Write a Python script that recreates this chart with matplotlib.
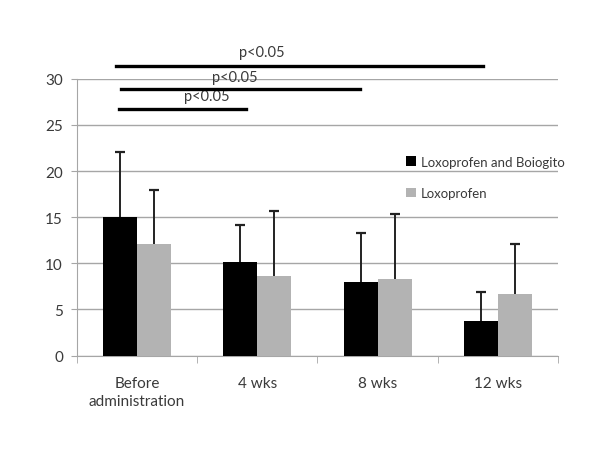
import numpy as np
import matplotlib.pyplot as plt

categories = ['Before\nadministration', '4 wks', '8 wks', '12 wks']
combo = [15.0, 10.1, 8.0, 3.7]
combo_err = [7.1, 4.1, 5.3, 3.2]
loxo = [12.1, 8.6, 8.3, 6.7]
loxo_err = [5.8, 7.1, 7.0, 5.4]
# significance brackets: (x start, x end, height, label x, label y)
sig_lines = [(-0.15, 0.91, 26.7, 0.58, 28.1),
             (-0.13, 1.85, 28.9, 0.81, 30.2),
             (-0.17, 2.88, 31.4, 1.04, 32.9)]

plt.rcParams['font.family'] = ['Lato', 'DejaVu Sans']
fig = plt.figure(figsize=(6, 4.56), dpi=100)
ax = fig.add_axes([0.128, 0.218, 0.802, 0.607])

x = np.arange(len(categories))
w = 0.283
ax.bar(x - w/2, combo, w, color='black', label='Loxoprofen and Boiogito', zorder=3)
ax.bar(x + w/2, loxo, w, color='#b3b3b3', label='Loxoprofen', zorder=3)

# upward-only error bars
for xs, vals, errs in [(x - w/2, combo, combo_err), (x + w/2, loxo, loxo_err)]:
    tops = np.array(vals) + np.array(errs)
    ax.vlines(xs, vals, tops, color='#222222', lw=1.4, zorder=2)
    ax.plot(xs, tops, ls='none', marker='_', ms=7, mew=1.6, color='#222222', zorder=2)

ax.set_xlim(-0.5, 3.5)
ax.set_ylim(0, 30)
ax.set_yticks(range(0, 31, 5))
ax.yaxis.grid(True, color='#a6a6a6', lw=1)
ax.set_axisbelow(True)
ax.set_xticks(x)
ax.set_xticklabels(categories, fontsize=11, color='#3a3a3a', linespacing=1.3)
ax.set_xticks(np.arange(-0.5, 4, 1), minor=True)
ax.tick_params(axis='x', which='major', length=0, pad=15)
ax.tick_params(axis='x', which='minor', length=5, color='#a6a6a6')
ax.tick_params(axis='y', length=4, color='#a6a6a6', labelsize=11, labelcolor='#3a3a3a', pad=6)
for s in ['top', 'right']:
    ax.spines[s].set_visible(False)
for s in ['left', 'bottom']:
    ax.spines[s].set_color('#a6a6a6')

for x0, x1, h, tx, ty in sig_lines:
    ax.plot([x0, x1], [h, h], color='black', lw=2.4, clip_on=False, zorder=4)
    ax.text(tx, ty, 'p<0.05', ha='center', va='center', fontsize=10.5, color='#3a3a3a', clip_on=False)

ax.legend(loc='upper left', bbox_to_anchor=(0.66, 0.765), frameon=False, fontsize=9.5,
          handlelength=0.7, handleheight=0.7, labelspacing=1.45, handletextpad=0.4,
          labelcolor='#3a3a3a')

fig.savefig('out.png', dpi=100)
